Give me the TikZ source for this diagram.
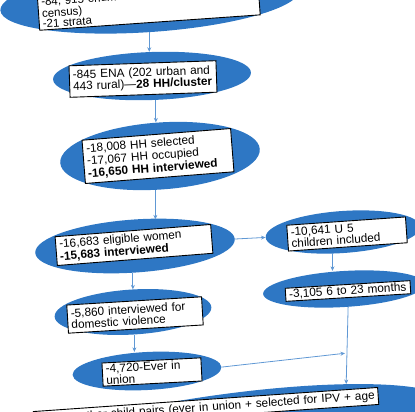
\documentclass[tikz,border=0pt]{standalone}
\usepackage{fontspec}
\setmainfont{Liberation Sans}
\usetikzlibrary{shapes.geometric,arrows.meta}
\definecolor{ellblue}{RGB}{46,119,196}
\definecolor{lnblue}{RGB}{96,152,212}
\begin{document}
\begin{tikzpicture}[x=1pt,y=-1pt,
  ell/.style={ellipse, fill=ellblue, inner sep=0pt},
  box/.style={rectangle, draw=black, line width=0.9pt, fill=white, align=left,
    font=\fontsize{11.8}{11.5}\selectfont, inner xsep=3.5pt, inner ysep=3pt},
  conn/.style={draw=lnblue, line width=0.8pt, -{Stealth[length=4.5pt,width=4pt]}}]
\useasboundingbox (0,0) rectangle (415,412);
\clip (0,0) rectangle (415,412);
% unit 1
\node[ell, minimum width=300, minimum height=64, rotate=4] (e1) at (150,0) {};
\node[box, text width=214, rotate=4, anchor=south, font=\fontsize{11.5}{10.5}\selectfont,
  inner ysep=2pt] (b1) at (150,23)
  {-84, 915 enumeration areas (2007\\census)\\-21 strata};
% unit 2
\node[ell, minimum width=198, minimum height=48, rotate=2] (e2) at (152,76) {};
\node[box, text width=140, rotate=2, inner ysep=4.5pt] (b2) at (143,79)
  {-845 ENA (202 urban and\\443 rural)---\textbf{28 HH/cluster}};
% unit 3
\node[ell, minimum width=200, minimum height=67, rotate=4] (e3) at (160,156) {};
\node[box, text width=142, rotate=4.5, inner ysep=4pt,
  font=\fontsize{11.8}{12.5}\selectfont] (b3) at (158,156)
  {-18,008 HH selected\\-17,067 HH occupied\\\textbf{-16,650 HH interviewed}};
% unit 4
\node[ell, minimum width=200, minimum height=53, rotate=4] (e4) at (135,246) {};
\node[box, text width=149, rotate=4.5, inner ysep=3pt,
  font=\fontsize{11.8}{12.5}\selectfont] (b4) at (134,245)
  {-16,683 eligible women\\\textbf{-15,683 interviewed}};
% unit 5
\node[ell, minimum width=155, minimum height=42, rotate=4] (e5) at (343,232) {};
\node[box, text width=112, rotate=4] (b5) at (347,234)
  {-10,641 U 5\\children included};
% unit 6
\node[ell, minimum width=162, minimum height=36, rotate=3.5] (e6) at (344,289) {};
\node[box, text width=118, rotate=3.5, inner ysep=1.5pt] (b6) at (348,291)
  {-3,105 6 to 23 months};
% unit 7
\node[ell, minimum width=157, minimum height=45, rotate=3.5] (e7) at (133,312) {};
\node[box, text width=128, rotate=3.5, inner ysep=4pt] (b7) at (135,315)
  {-5,860 interviewed for\\domestic violence};
% unit 8
\node[ell, minimum width=149, minimum height=38, rotate=3] (e8) at (147,371) {};
\node[box, text width=92, rotate=3, inner ysep=1.5pt] (b8) at (152,372)
  {-4,720-Ever in\\union};
% unit 9 (bottom)
\node[ell, minimum width=460, minimum height=80, rotate=8] (e9) at (220,435) {};
\node[box, text width=338, align=right, rotate=4, anchor=north east] (b9) at (378,387)
  {-mother-child pairs (ever in union + selected for IPV + age};
% connectors
\draw[conn] ([xshift=-3pt]e1.south) -- ([xshift=-3pt]e1.south |- e2.north);
\draw[conn] ([xshift=3pt]e2.south) -- ([xshift=3pt]e2.south |- e3.north);
\draw[conn] ([xshift=-7pt]e3.south) -- ([xshift=-7pt]e3.south |- e4.north);
\draw[conn] ([xshift=-4pt]e4.south) -- ([xshift=-4pt]e4.south |- e7.north);
\draw[conn] (e7.south) -- (e7.south |- e8.north);
\draw[conn] (e4.east) -- (e5.west);
\draw[conn] ([xshift=-12pt]e5.south) -- ([xshift=-12pt]e5.south |- e6.north);
\draw[conn] ([xshift=3pt]e6.south) -- (e9.14) coordinate[pos=0.6] (m);
\draw[conn] (e8.east) -- ([xshift=-2pt]m);
\end{tikzpicture}
\end{document}
